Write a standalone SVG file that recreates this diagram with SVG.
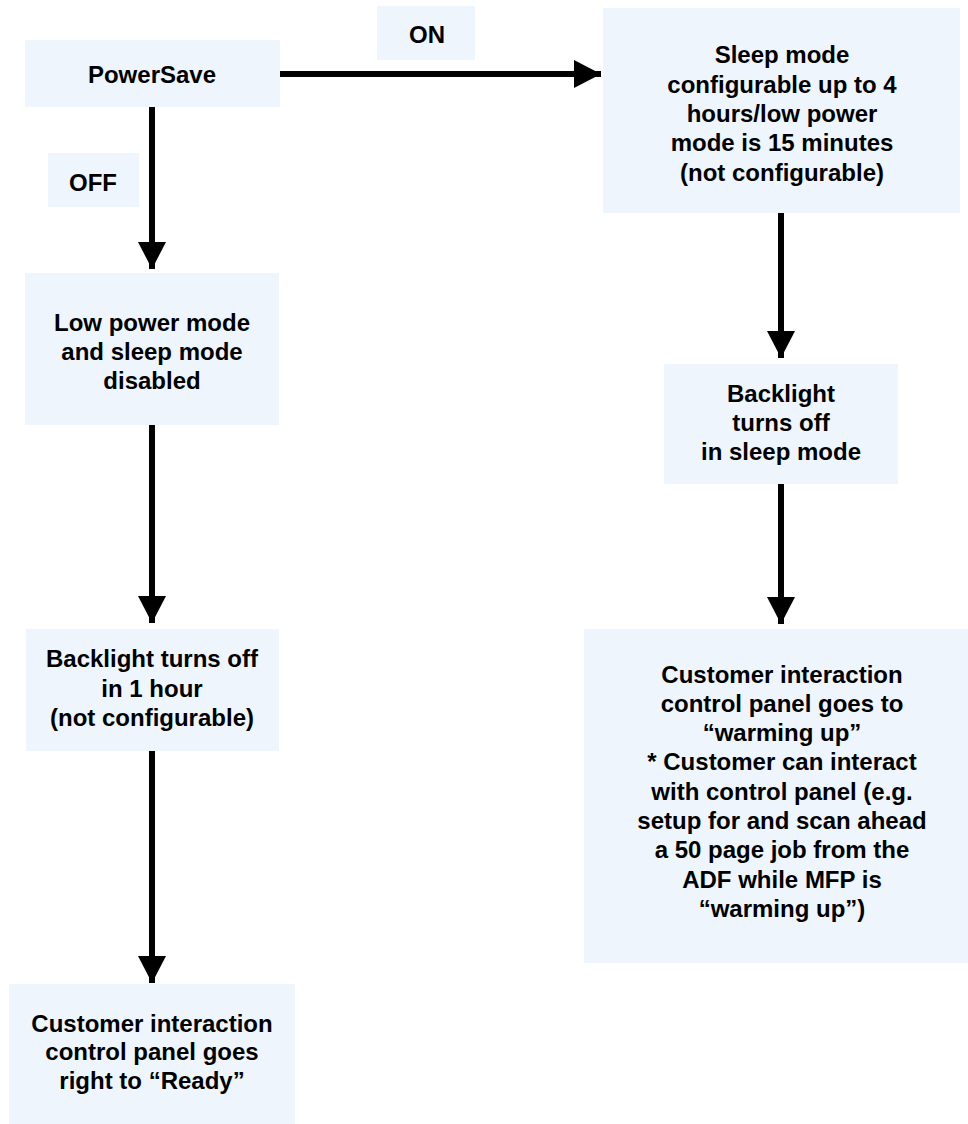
<svg xmlns="http://www.w3.org/2000/svg" width="968" height="1124" viewBox="0 0 968 1124">
<defs>
<style>
.box{fill:#EEF5FC;}
.t{font-family:"Liberation Sans",Arial,sans-serif;font-weight:bold;font-size:24px;fill:#000;text-anchor:middle;}
.c{stroke:#000;stroke-width:6;fill:none;}
</style>
<marker id="ah" markerUnits="userSpaceOnUse" markerWidth="27" markerHeight="28" viewBox="0 0 27 28" refX="27" refY="14" orient="auto">
<path d="M0,0 L27,14 L0,28 Z" fill="#000"/>
</marker>
</defs>
<rect width="968" height="1124" fill="#fff"/>
<g id="connectors">
<line class="c" x1="280" y1="74" x2="601" y2="74" marker-end="url(#ah)"/>
<line class="c" x1="152" y1="107" x2="152" y2="269" marker-end="url(#ah)"/>
<line class="c" x1="152" y1="425" x2="152" y2="623" marker-end="url(#ah)"/>
<line class="c" x1="152" y1="751" x2="152" y2="983" marker-end="url(#ah)"/>
<line class="c" x1="781" y1="213" x2="781" y2="358" marker-end="url(#ah)"/>
<line class="c" x1="781" y1="484" x2="781" y2="624" marker-end="url(#ah)"/>
</g>
<g id="powersave">
<rect class="box" x="25" y="40" width="255" height="67"/>
<text class="t" x="152" y="83">PowerSave</text>
</g>
<g id="on-label">
<rect class="box" x="377" y="6" width="98" height="54"/>
<text class="t" x="427" y="43">ON</text>
</g>
<g id="off-label">
<rect class="box" x="48" y="153" width="91" height="54"/>
<text class="t" x="93" y="191">OFF</text>
</g>
<g id="sleep-mode">
<rect class="box" x="603" y="8" width="357" height="205"/>
<text class="t" x="782" y="63">Sleep mode</text>
<text class="t" x="782" y="93">configurable up to 4</text>
<text class="t" x="782" y="122">hours/low power</text>
<text class="t" x="782" y="151">mode is 15 minutes</text>
<text class="t" x="782" y="181">(not configurable)</text>
</g>
<g id="low-power-disabled">
<rect class="box" x="25" y="273" width="254" height="152"/>
<text class="t" x="152" y="331">Low power mode</text>
<text class="t" x="152" y="360">and sleep mode</text>
<text class="t" x="152" y="389">disabled</text>
</g>
<g id="backlight-sleep">
<rect class="box" x="664" y="364" width="234" height="120"/>
<text class="t" x="781" y="402">Backlight</text>
<text class="t" x="781" y="431">turns off</text>
<text class="t" x="781" y="460">in sleep mode</text>
</g>
<g id="backlight-hour">
<rect class="box" x="26" y="629" width="253" height="122"/>
<text class="t" x="152" y="667">Backlight turns off</text>
<text class="t" x="152" y="697">in 1 hour</text>
<text class="t" x="152" y="726">(not configurable)</text>
</g>
<g id="customer-warming">
<rect class="box" x="584" y="629" width="384" height="334"/>
<text class="t" x="782" y="683">Customer interaction</text>
<text class="t" x="782" y="712">control panel goes to</text>
<text class="t" x="782" y="741">“warming up”</text>
<text class="t" x="782" y="770">* Customer can interact</text>
<text class="t" x="782" y="800">with control panel (e.g.</text>
<text class="t" x="782" y="829">setup for and scan ahead</text>
<text class="t" x="782" y="858">a 50 page job from the</text>
<text class="t" x="782" y="888">ADF while MFP is</text>
<text class="t" x="782" y="917">“warming up”)</text>
</g>
<g id="customer-ready">
<rect class="box" x="9" y="984" width="286" height="140"/>
<text class="t" x="152" y="1032">Customer interaction</text>
<text class="t" x="152" y="1060">control panel goes</text>
<text class="t" x="152" y="1089">right to “Ready”</text>
</g>
</svg>
